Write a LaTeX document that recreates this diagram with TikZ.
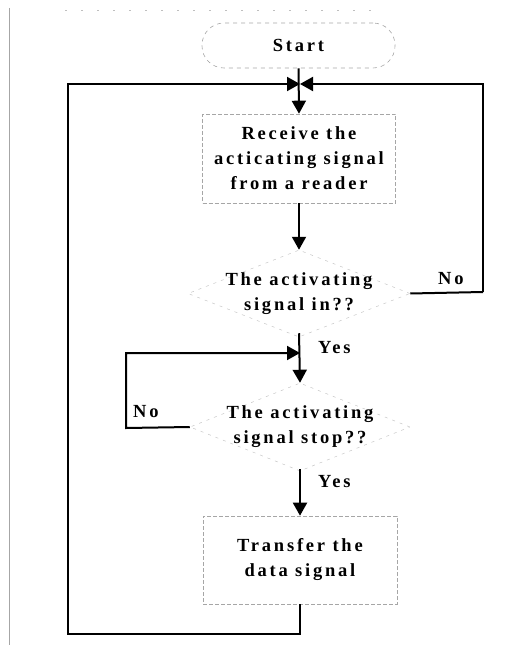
\documentclass[tikz,border=0pt]{standalone}
\usepackage{fontspec}
\newfontfamily\lblfont{Liberation Serif}[LetterSpace=15]
\usetikzlibrary{shapes.geometric,arrows.meta}
\begin{document}
\begin{tikzpicture}[x=1pt,y=-1pt,
  txt/.style={font=\lblfont\bfseries\fontsize{18.5}{25}\selectfont, align=center, inner sep=0pt},
  term/.style={txt, draw=gray!70, dash pattern=on 4pt off 4pt, line width=0.6pt, rounded corners=22pt, minimum width=193pt, minimum height=45pt},
  proc/.style={txt, draw=gray!70, dash pattern=on 4pt off 2pt, line width=0.6pt, minimum width=193pt, minimum height=89pt},
  dec/.style={draw=gray!45, dash pattern=on 3pt off 5pt, line width=0.5pt, diamond, inner sep=0pt, minimum width=222pt, minimum height=87pt},
  arr/.style={line width=2pt, -{Triangle[length=13pt,width=14pt]}},
  ln/.style={line width=2pt},
  lab/.style={txt, anchor=west}
]
\useasboundingbox (0,0) rectangle (522,647);
% frame remnants
\draw[gray!70, line width=0.6pt] (9,8) -- (9,645);
\draw[gray!50, line width=0.6pt, dash pattern=on 2pt off 14pt] (65,10) -- (380,10);

\node[term] (start) at (298.5,45.5) {Start};
\node[proc] (recv) at (299,158.5) {Receive the\\acticating signal\\from a reader};
\node[dec, label={[txt]center:{The activating\\signal in??}}] (d1) at (299,293.5) {};
\node[dec, minimum width=220pt, minimum height=88pt, label={[txt]center:{The activating\\signal stop??}}] (d2) at (300,427) {};
\node[proc, minimum width=194pt, minimum height=88pt] (xfer) at (300,560) {Transfer the\\data signal};

\coordinate (join) at (300,84);
\coordinate (m1) at (300,353);
\coordinate (rtop) at (483,84);
\coordinate (rbot) at (483,292);
\coordinate (ltop) at (68,84);
\coordinate (lbot) at (68,634);
\coordinate (bmid) at (300,634);
\coordinate (ql) at (126,428);
\coordinate (qt) at (126,353);

\draw[arr] (start.south) -- (recv.north);
\draw[arr] (recv.south) -- (d1.north);
\draw[ln] (d1.east) -- (rbot);
\draw[arr] (rbot) -- (rtop) -- (join);
\draw[arr] ([yshift=4pt]d1.south) -- (d2.north);
\draw[arr] (d2.west) -- (ql) -- (qt) -- (m1);
\draw[arr] ([yshift=2pt]d2.south) -- (xfer.north);
\draw[arr] (xfer.south) -- (bmid) -- (lbot) -- (ltop) -- (join);

\node[lab] (no1) at (438,279) {No};
\node[lab] (yes1) at (318,348) {Yes};
\node[lab] (no2) at (133,412) {No};
\node[lab] (yes2) at (318,482) {Yes};
\end{tikzpicture}
\end{document}
